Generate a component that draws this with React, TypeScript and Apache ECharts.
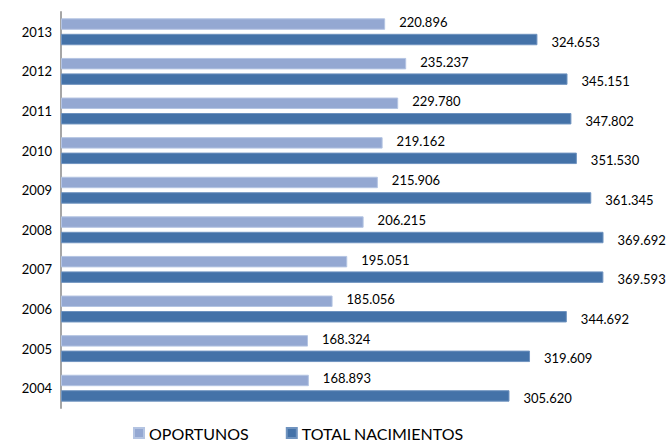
import React, { useEffect, useRef } from "react";
import * as echarts from "echarts";

const years = ["2004", "2005", "2006", "2007", "2008", "2009", "2010", "2011", "2012", "2013"];
const oportunos = [168893, 168324, 185056, 195051, 206215, 215906, 219162, 229780, 235237, 220896];
const totalNacimientos = [305620, 319609, 344692, 369593, 369692, 361345, 351530, 347802, 345151, 324653];

const fmt = (v: number) => String(v).replace(/\B(?=(\d{3})+(?!\d))/g, ".");

export default function App() {
  const ref = useRef<HTMLDivElement>(null);
  useEffect(() => {
    const chart = echarts.init(ref.current!, null, { renderer: "svg" });
    const font = "Lato, 'Open Sans', sans-serif";
    chart.setOption({
      animation: false,
      textStyle: { fontFamily: font },
      grid: { left: 61, right: 23, top: 12, bottom: 34, containLabel: false },
      legend: {
        data: ["OPORTUNOS", "TOTAL NACIMIENTOS"],
        left: 128,
        top: 420,
        itemWidth: 10,
        itemHeight: 10,
        itemGap: 37,
        icon: "rect",
        textStyle: { fontSize: 16, color: "#000", fontFamily: font },
      },
      xAxis: {
        type: "value",
        min: 0,
        max: 400000,
        show: false,
        splitLine: { show: false },
      },
      yAxis: {
        type: "category",
        data: years,
        axisLine: { show: true, lineStyle: { color: "#a6a6a6", width: 2 } },
        axisTick: { show: false },
        axisLabel: { fontSize: 13, color: "#000", margin: 9, fontFamily: font },
      },
      series: [
        {
          name: "OPORTUNOS",
          type: "bar",
          data: oportunos,
          barCategoryGap: "32%",
          barGap: "35%",
          itemStyle: { color: "#94A8D2", borderColor: "#b4c4e2", borderWidth: 1 },
          label: {
            show: true,
            position: "right",
            distance: 14,
            offset: [0, -2],
            fontSize: 13,
            color: "#000",
            fontFamily: font,
            formatter: (p: any) => fmt(p.value),
          },
        },
        {
          name: "TOTAL NACIMIENTOS",
          type: "bar",
          data: totalNacimientos,
          barCategoryGap: "32%",
          barGap: "35%",
          itemStyle: { color: "#4472A8", borderColor: "#6f93bf", borderWidth: 1 },
          label: {
            show: true,
            position: "right",
            distance: 14,
            offset: [0, 2],
            fontSize: 13,
            color: "#000",
            fontFamily: font,
            formatter: (p: any) => fmt(p.value),
          },
        },
      ],
    });
    return () => chart.dispose();
  }, []);
  return <div ref={ref} style={{ position: "absolute", left: 0, top: 0, width: 671, height: 442 }} />;
}
